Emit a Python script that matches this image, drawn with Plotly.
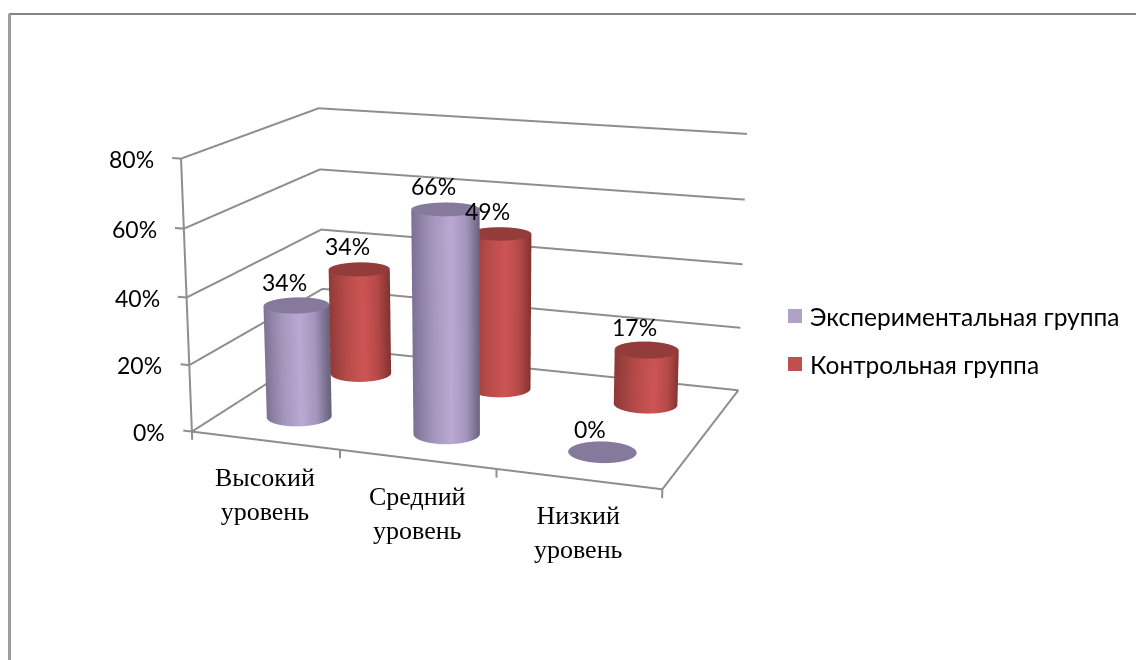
import numpy as np
import plotly.graph_objects as go

# Chart content
categories = ["Высокий<br>уровень", "Средний<br>уровень", "Низкий<br>уровень"]
series_names = ["Экспериментальная группа", "Контрольная группа"]
experimental = [0.34, 0.66, 0.0]
control = [0.34, 0.49, 0.17]
z_ticks = [0, 0.2, 0.4, 0.6, 0.8]
z_labels = ["0%", "20%", "40%", "60%", "80%"]

# Scene setup: the box is oblique, so depth and height lean in x and y
XR = (-3.0, 6.0)
YR = (-3.0, 5.0)
ZR = (-0.1, 0.9)
EYE = dict(x=0.5235, y=-2.1446, z=1.4074)
CENTER = dict(x=0.2151, y=0.2224, z=-0.2262)
UP = dict(x=-0.0004, y=0, z=1)
ASPECT = dict(x=4.7110, y=2.1298, z=1)
X_PER_DEPTH, X_PER_HEIGHT = 0.2762, -0.1282
Y_PER_CAT, Y_PER_HEIGHT = -0.0817, 2.0087
RIM_A = (0.2122, 0.0548)  # floor vectors spanning the cylinder cross-section
RIM_B = (0.0157, -0.1906)
DOMAIN_CENTER = 503.4825

W, H = 1136, 660
GRID = "#8e8e8e"
SANS = "Lato, 'Noto Sans', sans-serif"
SERIF = "'Liberation Serif', serif"


def scene_xyz(x, y, z):
    return x + X_PER_DEPTH * y + X_PER_HEIGHT * z, y + Y_PER_CAT * x + Y_PER_HEIGHT * z, z


def seg(xs, ys, zs):
    X, Y, Z = scene_xyz(np.array(xs, float), np.array(ys, float), np.array(zs, float))
    return go.Scatter3d(x=X, y=Y, z=Z, mode="lines", line=dict(color=GRID, width=4),
                        showlegend=False, hoverinfo="skip")


# Walls, floor and tick marks
traces = []
for z in z_ticks:
    traces.append(seg([0, 0, 3], [0, 2, 2], [z, z, z]))
    traces.append(seg([-0.06, 0], [0, 0], [z, z]))
traces.append(seg([0, 3, 3], [0, 0, 2], [0, 0, 0]))
traces.append(seg([0, 0], [0, 0], [0, z_ticks[-1]]))
for i in range(len(categories) + 1):
    traces.append(seg([i, i], [0, 0], [0, -0.025]))

FLAT = dict(ambient=1, diffuse=0, specular=0, fresnel=0)


def cylinder(cx, cy, h, colorscale, cap):
    th = np.linspace(0, 2 * np.pi, 97)
    c, s = np.cos(th), np.sin(th)
    x0, y0, _ = scene_xyz(cx, cy, 0.0)
    x1, y1, _ = scene_xyz(cx, cy, h)
    rim_x = RIM_A[0] * c + RIM_B[0] * s
    rim_y = RIM_A[1] * c + RIM_B[1] * s
    parts = []
    if h > 0:
        parts.append(go.Surface(x=np.array([x0 + rim_x, x1 + rim_x]), y=np.array([y0 + rim_y, y1 + rim_y]),
                                z=np.array([0 * th, 0 * th + h]), surfacecolor=np.array([c, c]),
                                colorscale=colorscale, cmin=-1, cmax=1, showscale=False,
                                lighting=FLAT, hoverinfo="skip"))
    parts.append(go.Surface(x=np.array([x1 + 0 * th, x1 + rim_x]), y=np.array([y1 + 0 * th, y1 + rim_y]),
                            z=np.array([0 * th + h, 0 * th + h]), surfacecolor=np.zeros((2, th.size)),
                            colorscale=[[0, cap], [1, cap]], showscale=False,
                            lighting=FLAT, hoverinfo="skip"))
    return parts


PURPLE = [[0, "#7b7193"], [.3, "#a395ba"], [.58, "#baa9d3"], [.8, "#a596bd"], [1, "#6a627e"]]
RED = [[0, "#8f3a38"], [.3, "#b64b49"], [.58, "#cd5554"], [.8, "#b64a48"], [1, "#823331"]]
for i in range(len(categories)):
    traces += cylinder(i + .5, 1.5, control[i], RED, "#943c3a")
    traces += cylinder(i + .5, .5, experimental[i], PURPLE, "#857a9b")


def note(x, y, z, text, **kw):
    X, Y, Z = scene_xyz(float(x), float(y), float(z))
    return dict(x=X, y=Y, z=Z, text=text, showarrow=False, **kw)


scene_notes = []
for z, label in zip(z_ticks, z_labels):
    scene_notes.append(note(0, 0, z, label, xanchor="right", xshift=-25,
                            font=dict(family=SANS, size=23, color="black")))
for i, name in enumerate(categories):
    scene_notes.append(note(i + .5, 0, 0, name, yshift=-54, font=dict(family=SERIF, size=26, color="black")))
for i in range(len(categories)):
    for depth, vals in ((.5, experimental), (1.5, control)):
        scene_notes.append(note(i + .5, depth, vals[i], f"{vals[i] * 100:.0f}%", xshift=-12, yshift=23,
                                font=dict(family=SANS, size=23, color="black")))


def px(x):
    return x / W


def py(y):
    return 1 - y / H


def paper_shape(**kw):
    return dict(xref="paper", yref="paper", **kw)


shapes = [
    paper_shape(type="line", x0=px(9), y0=py(14), x1=1, y1=py(14), line=dict(color="#848484", width=2)),
    paper_shape(type="line", x0=px(9.5), y0=py(14), x1=px(9.5), y1=0, line=dict(color="#9c9c9c", width=3)),
    paper_shape(type="rect", x0=px(788), x1=px(802), y0=py(323), y1=py(309), fillcolor="#b1a0c7", line=dict(width=0)),
    paper_shape(type="rect", x0=px(788), x1=px(802), y0=py(371), y1=py(357), fillcolor="#c0504d", line=dict(width=0)),
]
legend_notes = [
    dict(text=name, x=px(807.5), y=py(y), xref="paper", yref="paper", xanchor="left", yanchor="middle",
         showarrow=False, font=dict(family=SANS, size=24.5, color="black"))
    for name, y in zip(series_names, (316, 364))
]

fig = go.Figure(traces)
fig.update_layout(
    width=W, height=H, margin=dict(l=0, r=0, t=0, b=0), paper_bgcolor="white",
    shapes=shapes, annotations=legend_notes,
    scene=dict(
        domain=dict(x=[0, 2 * DOMAIN_CENTER / W], y=[0, 1]), annotations=scene_notes,
        xaxis=dict(range=XR, visible=False), yaxis=dict(range=YR, visible=False), zaxis=dict(range=ZR, visible=False),
        aspectmode="manual", aspectratio=ASPECT,
        camera=dict(eye=EYE, center=CENTER, up=UP, projection=dict(type="perspective")),
    ),
)
fig.write_html("out.html", config=dict(displayModeBar=False))
